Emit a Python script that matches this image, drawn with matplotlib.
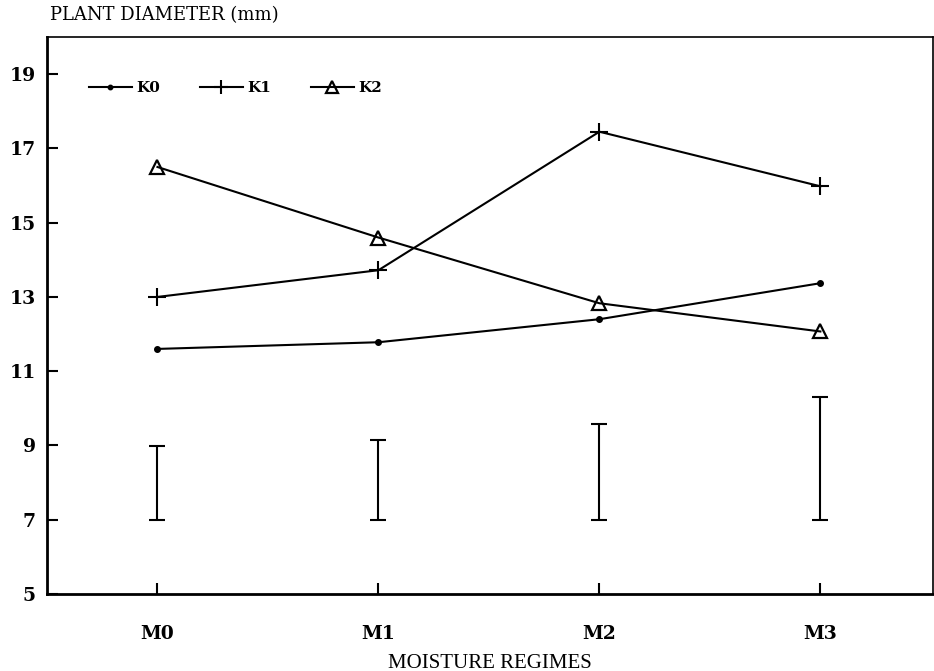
import matplotlib
matplotlib.use("Agg")
import matplotlib.pyplot as plt
import numpy as np

regimes = ["M0", "M1", "M2", "M3"]
k0 = [11.6, 11.78, 12.4, 13.37]
k1 = [13.0, 13.72, 17.45, 15.98]
k2 = [16.5, 14.6, 12.83, 12.07]
# LSD-style bars: lower and upper ends
bar_low = [7.0, 7.0, 7.0, 7.0]
bar_high = [8.98, 9.15, 9.57, 10.3]
y_ticks = [5, 7, 9, 11, 13, 15, 17, 19]


def main():
    fig = plt.figure(figsize=(9.34, 6.71), dpi=100)
    ax = fig.add_axes([0.0503, 0.1148, 0.9487, 0.830])
    x = np.arange(len(regimes))

    tick_font = dict(family="DejaVu Serif", weight="bold", size=13.5)

    ax.plot(x, k0, color="black", lw=1.5, marker="o", ms=4, label="K0")
    ax.plot(x, k1, color="black", lw=1.5, marker="+", ms=13, mew=1.5, label="K1")
    ax.plot(x, k2, color="black", lw=1.5, marker="^", ms=10, mew=1.6,
            mfc="none", label="K2")

    low = np.array(bar_low)
    high = np.array(bar_high)
    ax.errorbar(x, (low + high) / 2, yerr=(high - low) / 2, fmt="none",
                ecolor="black", elinewidth=1.5, capsize=6, capthick=1.5)

    ax.set_xlim(-0.5, 3.51)
    ax.set_ylim(5, 20)
    ax.set_xticks(x)
    ax.set_xticklabels(regimes, fontdict=tick_font)
    ax.set_yticks(y_ticks)
    ax.set_yticklabels([str(v) for v in y_ticks], fontdict=tick_font)
    ax.tick_params(direction="in", length=8, width=1.5, pad=8)
    ax.tick_params(axis="x", pad=22)

    for side in ["left", "bottom"]:
        ax.spines[side].set_linewidth(2)
    for side in ["top", "right"]:
        ax.spines[side].set_linewidth(1.2)

    ax.set_xlabel("MOISTURE REGIMES", family="Liberation Serif", size=15,
                  labelpad=8)
    fig.text(0.053, 0.977, "PLANT DIAMETER (mm)", family="DejaVu Serif",
             size=13, weight="medium", va="center", ha="left")

    ax.legend(loc="upper left", bbox_to_anchor=(0.032, 0.945), ncol=3,
              frameon=False, handlelength=2.8, columnspacing=2.6,
              handletextpad=0.3, markerscale=0.8,
              prop=dict(family="DejaVu Serif", weight="bold", size=11))

    fig.savefig("out.png", dpi=100)


if __name__ == "__main__":
    main()
